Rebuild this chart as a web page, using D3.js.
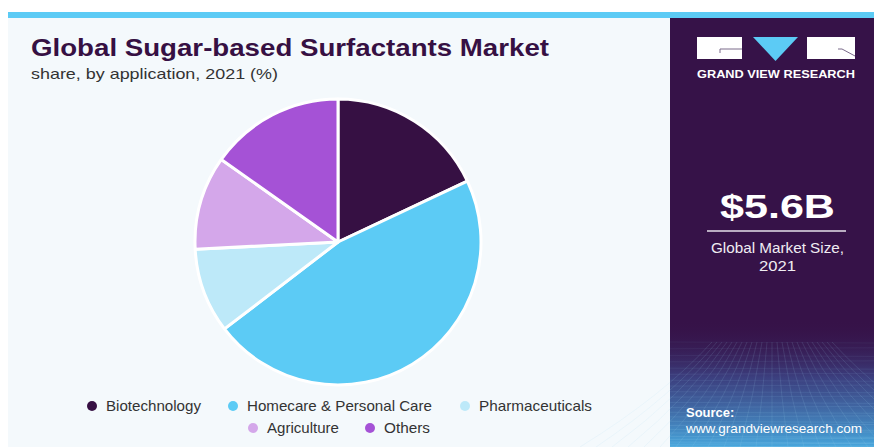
<!DOCTYPE html>
<html><head><meta charset="utf-8">
<script src="https://cdn.jsdelivr.net/npm/d3@7"></script>
<style>html,body{margin:0;padding:0;background:#fff;}svg{display:block;font-family:"Liberation Sans",Arial,sans-serif;}</style>
</head><body>
<svg id="c" width="874" height="447"></svg>
<script>
const categories = ["Biotechnology","Homecare & Personal Care","Pharmaceuticals","Agriculture","Others"];
const shares = [18.0, 46.6, 9.6, 10.6, 15.2];
const colors = ["#361043","#5ccbf5","#bde9f9","#d4a7ea","#a552d6"];
const titleText = "Global Sugar-based Surfactants Market";
const subtitleText = "share, by application, 2021 (%)";
const marketSize = "$5.6B";
const marketLabel = ["Global Market Size,","2021"];

const svg = d3.select("#c");
const defs = svg.append("defs");
// backgrounds
svg.append("rect").attr("x",8).attr("y",12).attr("width",866).attr("height",6).attr("fill","#5ccbf5");
svg.append("rect").attr("x",8).attr("y",18).attr("width",662).attr("height",429).attr("fill","#f4f9fc");
svg.append("rect").attr("x",670).attr("y",18).attr("width",204).attr("height",429).attr("fill","#361248");
const g = defs.append("linearGradient").attr("id","gb").attr("x1",0).attr("y1",0).attr("x2",0).attr("y2",1);
g.append("stop").attr("offset","0%").attr("stop-color","#361248").attr("stop-opacity",0);
g.append("stop").attr("offset","45%").attr("stop-color","#3d4a8c").attr("stop-opacity",0.8);
g.append("stop").attr("offset","100%").attr("stop-color","#47a6dc");
svg.append("rect").attr("x",670).attr("y",320).attr("width",204).attr("height",127).attr("fill","url(#gb)");
// perspective grid
const grid = svg.append("g").attr("stroke","#9fd6f2").attr("stroke-width",0.6).attr("fill","none");
d3.range(0,24).forEach(i=>{
  const y = 447 - Math.pow(i/23,1.5)*105;
  grid.append("line").attr("x1",670).attr("x2",874).attr("y1",y).attr("y2",y+ (i%2?1:-1)).attr("stroke-opacity",0.1+0.2*(1-i/23));
});
d3.range(-12,13).forEach(i=>{
  grid.append("path").attr("d",`M${772+i*5},342 Q${772+i*9},395 ${772+i*16},447`).attr("stroke-opacity",0.22);
});

// title
svg.append("text").attr("x",31).attr("y",56).attr("font-size",24).attr("font-weight","bold")
  .attr("fill","#361043").attr("textLength",518).attr("lengthAdjust","spacingAndGlyphs").text(titleText);
svg.append("text").attr("x",31).attr("y",79).attr("font-size",15).attr("fill","#333")
  .attr("textLength",247).attr("lengthAdjust","spacingAndGlyphs").text(subtitleText);

// logo
const logo = svg.append("g");
logo.append("rect").attr("x",697).attr("y",37).attr("width",45).attr("height",22).attr("fill","#fff");
logo.append("path").attr("d","M742,49 L720,49 L720,53").attr("stroke","#7a6a8a").attr("stroke-width",1).attr("fill","none");
logo.append("path").attr("d","M753,37 L798,37 L775.5,61 Z").attr("fill","#5ccbf5");
logo.append("rect").attr("x",807).attr("y",37).attr("width",48).attr("height",22).attr("fill","#fff");
logo.append("path").attr("d","M838,49 L842,49 L855,56").attr("stroke","#7a6a8a").attr("stroke-width",1).attr("fill","none");
logo.append("text").attr("x",776).attr("y",78).attr("text-anchor","middle").attr("font-size",10).attr("font-weight","bold")
  .attr("fill","#fff").attr("textLength",158).attr("lengthAdjust","spacingAndGlyphs").text("GRAND VIEW RESEARCH");

// market size
svg.append("text").attr("x",720).attr("y",218).attr("font-size",33).attr("font-weight","bold")
  .attr("fill","#fff").attr("textLength",115).attr("lengthAdjust","spacingAndGlyphs").text(marketSize);
svg.append("line").attr("x1",707).attr("x2",846).attr("y1",231).attr("y2",231).attr("stroke","#e6e0ea").attr("stroke-width",1.5);
const mlw = [133, 37];
marketLabel.forEach((t,i)=>svg.append("text").attr("x",777.5-mlw[i]/2).attr("y",253+i*18)
  .attr("font-size",14).attr("fill","#f0ecf2").attr("textLength",mlw[i]).attr("lengthAdjust","spacingAndGlyphs").text(t));

// source
svg.append("text").attr("x",686).attr("y",417).attr("font-size",13).attr("font-weight","bold").attr("fill","#fff").text("Source:");
svg.append("text").attr("x",686).attr("y",433).attr("font-size",13).attr("fill","#fff")
  .attr("textLength",176).attr("lengthAdjust","spacingAndGlyphs").text("www.grandviewresearch.com");

// pie
const cx = 338, cy = 242, r = 143;
const pie = d3.pie().sort(null).value(d=>d)(shares);
const arc = d3.arc().innerRadius(0).outerRadius(r);
svg.append("g").attr("transform",`translate(${cx},${cy})`).selectAll("path").data(pie).join("path")
  .attr("d",arc).attr("fill",(d,i)=>colors[i]).attr("stroke","#fff").attr("stroke-width",3).attr("stroke-linejoin","round");

// legend
const legendPos = [[92,406],[233,406],[465,406],[253,428],[370,428]];
const legendW = [95,185,113,72,46];
const lg = svg.append("g");
categories.forEach((c,i)=>{
  const [x,y] = legendPos[i];
  lg.append("circle").attr("cx",x).attr("cy",y).attr("r",5).attr("fill",colors[i]);
  lg.append("text").attr("x",x+14).attr("y",y+5).attr("font-size",15).attr("fill","#333")
    .attr("textLength",legendW[i]).attr("lengthAdjust","spacingAndGlyphs").text(c);
});
</script>
</body></html>
